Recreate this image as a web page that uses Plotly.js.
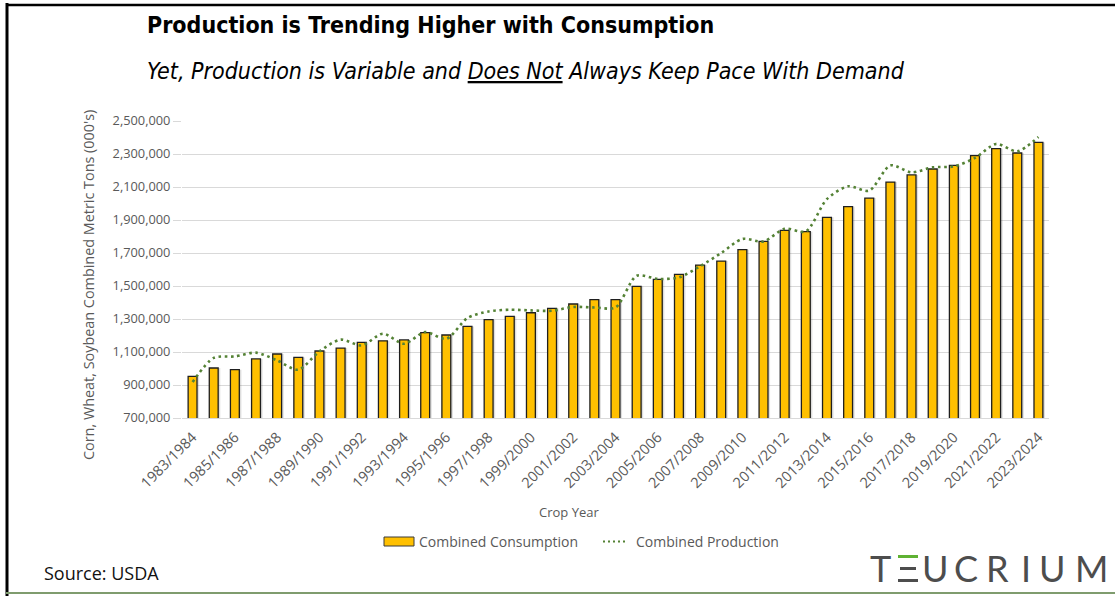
<!DOCTYPE html>
<html>
<head>
<meta charset="utf-8">
<script src="https://cdn.plot.ly/plotly-3.0.1.min.js"></script>
<style>
  html, body { margin: 0; padding: 0; background: #ffffff; }
  #chart { width: 1115px; height: 596px; }
</style>
</head>
<body>
<div id="chart"></div>
<script>
// Crop years, 1983/1984 through 2023/2024
const cropYears = [
  "1983/1984","1984/1985","1985/1986","1986/1987","1987/1988","1988/1989",
  "1989/1990","1990/1991","1991/1992","1992/1993","1993/1994","1994/1995",
  "1995/1996","1996/1997","1997/1998","1998/1999","1999/2000","2000/2001",
  "2001/2002","2002/2003","2003/2004","2004/2005","2005/2006","2006/2007",
  "2007/2008","2008/2009","2009/2010","2010/2011","2011/2012","2012/2013",
  "2013/2014","2014/2015","2015/2016","2016/2017","2017/2018","2018/2019",
  "2019/2020","2020/2021","2021/2022","2022/2023","2023/2024"
];

// Corn + wheat + soybean, thousand metric tons
const combinedConsumption = [
   952000, 1003000,  993000, 1058000, 1088000, 1067000,
  1106000, 1124000, 1158000, 1168000, 1173000, 1217000,
  1203000, 1255000, 1296000, 1316000, 1338000, 1364000,
  1391000, 1417000, 1417000, 1498000, 1540000, 1570000,
  1627000, 1651000, 1720000, 1770000, 1837000, 1829000,
  1916000, 1981000, 2033000, 2130000, 2173000, 2209000,
  2231000, 2290000, 2332000, 2306000, 2370000
];

const combinedProduction = [
   918000, 1064000, 1073000, 1096000, 1049000,  993000,
  1104000, 1175000, 1140000, 1211000, 1150000, 1221000,
  1180000, 1306000, 1346000, 1356000, 1352000, 1350000,
  1373000, 1370000, 1370000, 1562000, 1543000, 1552000,
  1620000, 1700000, 1785000, 1770000, 1847000, 1831000,
  2027000, 2104000, 2078000, 2231000, 2189000, 2219000,
  2225000, 2276000, 2361000, 2316000, 2403000
];

const seriesNames = ["Combined Consumption", "Combined Production"];
const yTicks = [700000, 900000, 1100000, 1300000, 1500000, 1700000, 1900000, 2100000, 2300000, 2500000];
const logoLetters = ["T", "U", "C", "R", "I", "U", "M"];

// ---- layout geometry (pixels) ----
const W = 1115, H = 596;
const M = { l: 182, r: 66, t: 121, b: 178 };
const PW = W - M.l - M.r, PH = H - M.t - M.b;
const px = x => (x - M.l) / PW;          // pixel x -> paper x
const py = y => (H - M.b - y) / PH;      // pixel y -> paper y

const UI = "'Open Sans', 'Noto Sans', sans-serif";
const HEAD = "'DejaVu Sans Condensed', 'Liberation Sans Narrow', sans-serif";
const GREY = "#595959";
const GOLD = "#FFC000";
const GREEN = "#548235";

const traces = [
  {
    // soft drop shadow behind the columns
    type: "bar", x: cropYears, y: combinedConsumption,
    width: 0.42, offset: -0.11,
    marker: { color: "rgba(0,0,0,0.13)", line: { width: 0 } },
    showlegend: false, hoverinfo: "skip"
  },
  {
    type: "bar", name: seriesNames[0], x: cropYears, y: combinedConsumption,
    width: 0.42, offset: -0.21,
    marker: { color: GOLD, line: { color: "#1f1f1f", width: 1.3 } }
  },
  {
    type: "scatter", mode: "lines", name: seriesNames[1], x: cropYears, y: combinedProduction,
    line: { color: GREEN, width: 2.6, dash: "2.6px,3.6px", shape: "spline", smoothing: 0.8 }
  }
];

const annotations = [
  { text: "<b>Production is Trending Higher with Consumption</b>", xref: "paper", yref: "paper",
    x: px(145), y: py(25), xanchor: "left", yanchor: "middle", showarrow: false,
    font: { family: HEAD, size: 23, color: "#000000" } },
  { text: "<i>Yet, Production is Variable and <u>Does Not</u> Always Keep Pace With Demand</i>",
    xref: "paper", yref: "paper", x: px(145), y: py(71), xanchor: "left", yanchor: "middle",
    showarrow: false, font: { family: HEAD, size: 23, color: "#000000" } },
  { text: "Corn, Wheat, Soybean Combined Metric Tons (000's)", xref: "paper", yref: "paper",
    x: px(88), y: py(285), textangle: -90, xanchor: "center", yanchor: "middle", showarrow: false,
    font: { family: UI, size: 14.4, color: GREY } },
  { text: "Crop Year", xref: "paper", yref: "paper", x: px(569), y: py(512),
    xanchor: "center", yanchor: "middle", showarrow: false, font: { family: UI, size: 13, color: GREY } },
  { text: "Source: USDA", xref: "paper", yref: "paper", x: px(42), y: py(573),
    xanchor: "left", yanchor: "middle", showarrow: false, font: { family: UI, size: 18, color: "#111111" } },
  // legend labels
  { text: seriesNames[0], xref: "paper", yref: "paper", x: px(417), y: py(541),
    xanchor: "left", yanchor: "middle", showarrow: false, font: { family: UI, size: 14, color: GREY } },
  { text: seriesNames[1], xref: "paper", yref: "paper", x: px(634), y: py(541),
    xanchor: "left", yanchor: "middle", showarrow: false, font: { family: UI, size: 14, color: GREY } }
];

// wordmark letters (the E is drawn as three bars below)
const letterX = [880, 935, 966, 997, 1026, 1052, 1091];
logoLetters.forEach((ch, i) => annotations.push({
  text: ch, xref: "paper", yref: "paper", x: px(letterX[i]), y: py(568),
  xanchor: "center", yanchor: "middle", showarrow: false,
  font: { family: "Lato, 'Noto Sans', sans-serif", size: 36, weight: 400, color: "#4d4d4d" }
}));

const shapes = [
  // frame: left and top black rules, green rule along the bottom
  { type: "line", xref: "paper", yref: "paper", x0: px(7), x1: px(7), y0: py(3), y1: py(596),
    line: { color: "#000000", width: 3 } },
  { type: "line", xref: "paper", yref: "paper", x0: px(6), x1: px(1115), y0: py(5), y1: py(5),
    line: { color: "#000000", width: 2.5 } },
  { type: "line", xref: "paper", yref: "paper", x0: px(6), x1: px(1115), y0: py(593), y1: py(593),
    line: { color: "#7f9c6e", width: 2 } },
  // legend keys
  { type: "rect", xref: "paper", yref: "paper", x0: px(384), x1: px(414), y0: py(537), y1: py(546),
    fillcolor: GOLD, line: { color: "#3a3a3a", width: 1 } },
  { type: "line", xref: "paper", yref: "paper", x0: px(603), x1: px(628), y0: py(541.5), y1: py(541.5),
    line: { color: GREEN, width: 2, dash: "2px,3px" } },
  // wordmark E: green top bar, grey middle and bottom bars
  { type: "rect", xref: "paper", yref: "paper", x0: px(898), x1: px(918), y0: py(555), y1: py(558),
    fillcolor: "#5fb233", line: { width: 0 } },
  { type: "rect", xref: "paper", yref: "paper", x0: px(900), x1: px(916), y0: py(567), y1: py(570),
    fillcolor: "#4d4d4d", line: { width: 0 } },
  { type: "rect", xref: "paper", yref: "paper", x0: px(898), x1: px(918), y0: py(579), y1: py(582),
    fillcolor: "#4d4d4d", line: { width: 0 } }
];

const layout = {
  width: W, height: H, autosize: false,
  margin: M,
  paper_bgcolor: "#ffffff", plot_bgcolor: "#ffffff",
  barmode: "overlay",
  showlegend: false,
  xaxis: {
    type: "category", tickmode: "linear", tick0: 0, dtick: 2, tickangle: -45,
    tickfont: { family: UI, size: 14.5, color: GREY }, ticklabelstandoff: 4,
    showgrid: false, showline: true, linecolor: "#d9d9d9", linewidth: 1, ticks: "",
    zeroline: false, fixedrange: true
  },
  yaxis: {
    range: [yTicks[0], yTicks[yTicks.length - 1]], tickvals: yTicks, tickformat: ",d",
    tickfont: { family: UI, size: 12.8, color: GREY },
    showgrid: true, gridcolor: "#d9d9d9", gridwidth: 1,
    ticks: "outside", ticklen: 8, tickcolor: "#d9d9d9",
    showline: false, zeroline: false, fixedrange: true
  },
  annotations: annotations,
  shapes: shapes
};

Plotly.newPlot("chart", traces, layout, { staticPlot: true, displayModeBar: false });
</script>
</body>
</html>
